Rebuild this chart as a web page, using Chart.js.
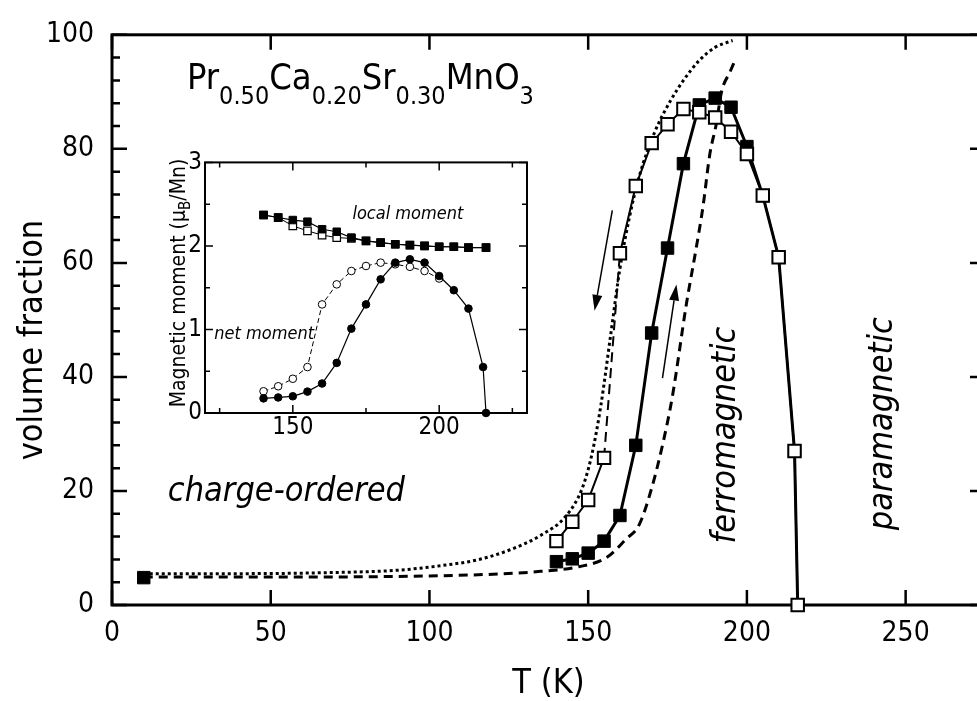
<!DOCTYPE html>
<html>
<head>
<meta charset="utf-8">
<script src="https://cdn.jsdelivr.net/npm/chart.js@4.4.0/dist/chart.umd.min.js"></script>
<style>
  html, body { margin: 0; padding: 0; background: #fff; overflow: hidden; width: 977px; height: 701px; }
  #wrap { position: relative; width: 1000px; height: 701px; }
  #main { position: absolute; left: 0; top: 0; }
  #inset { position: absolute; left: 145px; top: 145px; background: #fff; }
</style>
</head>
<body>
<div id="wrap">
  <canvas id="main" width="1000" height="701"></canvas>
  <canvas id="inset" width="395" height="300"></canvas>
</div>
<script>
const FONT = "'DejaVu Sans Condensed', 'DejaVu Sans', sans-serif";
Chart.defaults.font.family = FONT;
Chart.defaults.color = "#000";

// main panel: volume fraction vs T
const xTicks = [0, 50, 100, 150, 200, 250];
const yTicks = [0, 20, 40, 60, 80, 100];
const yMinorTicks = [4, 8, 12, 16, 24, 28, 32, 36, 44, 48, 52, 56, 64, 68, 72, 76, 84, 88, 92, 96];

const tLow = [10];
const fracLow = [4.8];
const tRun = [140, 145, 150, 155, 160, 165, 170, 175, 180, 185, 190, 195, 200, 205, 210, 215, 216];
const fracHeat = [7.6, 8.1, 9.1, 11.2, 15.7, 28.0, 47.7, 62.6, 77.4, 87.7, 88.9, 87.3, 80.4, 71.8, 61.0, 27.0, 0];
const fracCool = [11.2, 14.6, 18.4, 25.8, 61.7, 73.5, 81.0, 84.3, 87.0, 86.4, 85.5, 83.0, 79.1, 71.8, 61.0, 27.0, 0];

const tDotted = [10, 40, 70, 90, 105, 115, 125, 135, 143, 148, 151, 154, 157, 160, 163, 166, 171, 176, 180, 185, 190, 195.5];
const fracDotted = [5.5, 5.5, 5.7, 6.1, 7.0, 7.9, 9.6, 12.2, 15.6, 20.3, 26, 35, 47, 59, 68, 75, 83, 88.5, 92, 95.5, 97.8, 99];
const tDashed = [10, 60, 100, 120, 135, 147, 156, 162, 166, 170, 173.6, 176.5, 181, 184, 186.2, 188.3, 190.4, 192, 194.6, 196.4];
const fracDashed = [4.9, 4.9, 5.1, 5.4, 5.9, 6.7, 8.4, 11.6, 14, 20.5, 28.5, 36.5, 53, 62.5, 70, 79, 84.5, 90, 93.4, 95.7];

// inset: magnetic moment vs T
const insetXTicks = [150, 200];
const insetXMinor = [125, 175, 225];
const insetYTicks = [0, 1, 2, 3];
const insetYMinor = [0.5, 1.5, 2.5];

const tLocal = [140, 145, 150, 155, 160, 165, 170, 175, 180, 185, 190, 195, 200, 205, 210, 216];
const localHeat = [2.37, 2.34, 2.31, 2.29, 2.20, 2.17, 2.10, 2.06, 2.04, 2.02, 2.01, 2.00, 1.99, 1.99, 1.98, 1.98];
const localCool = [2.37, 2.34, 2.24, 2.18, 2.13, 2.10, 2.09, 2.06, 2.04, 2.02, 2.01, 2.00, 1.99, 1.99, 1.98, 1.98];
const tNetHeat = [140, 145, 150, 155, 160, 165, 170, 175, 180, 185, 190, 195, 200, 205, 210, 215, 216];
const netHeat = [0.175, 0.186, 0.20, 0.256, 0.353, 0.60, 1.01, 1.30, 1.60, 1.80, 1.84, 1.80, 1.64, 1.47, 1.25, 0.55, 0.0];
const tNetCool = [140, 145, 150, 155, 160, 165, 170, 175, 180, 185, 190, 195, 200];
const netCool = [0.26, 0.32, 0.41, 0.55, 1.30, 1.54, 1.70, 1.76, 1.80, 1.78, 1.75, 1.70, 1.61];

// arrows, in data units [x0, y0, x1, y1] (tip at x1, y1)
const arrows = [[157.6, 69.2, 152.0, 51.6], [173.4, 39.8, 177.8, 56.2]];

const pts = (xs, ys) => xs.map((x, i) => ({ x: x, y: ys[i] }));

function frameAndTicks(chart, o) {
  const { ctx, chartArea: a } = chart;
  const xs = chart.scales.x, ys = chart.scales.y;
  ctx.save();
  ctx.strokeStyle = "#000";
  ctx.lineWidth = o.tickWidth;
  ctx.beginPath();
  const xt = (v, len) => {
    const p = xs.getPixelForValue(v);
    ctx.moveTo(p, a.bottom); ctx.lineTo(p, a.bottom - len);
    ctx.moveTo(p, a.top); ctx.lineTo(p, a.top + len);
  };
  const yt = (v, len) => {
    const p = ys.getPixelForValue(v);
    ctx.moveTo(a.left, p); ctx.lineTo(a.left + len, p);
    ctx.moveTo(a.right, p); ctx.lineTo(a.right - len, p);
  };
  o.xMajor.forEach(v => xt(v, o.major));
  o.xMinor.forEach(v => xt(v, o.minor));
  o.yMajor.forEach(v => yt(v, o.major));
  o.yMinor.forEach(v => yt(v, o.minor));
  ctx.stroke();
  ctx.lineWidth = o.frameWidth;
  ctx.strokeRect(a.left, a.top, a.right - a.left, a.bottom - a.top);
  ctx.restore();
}

// draws text made of [string, isSub] pieces starting at x, baseline y
function drawPieces(ctx, pieces, x, y, font, subFont, subShift) {
  let cx = x;
  pieces.forEach(([s, sub]) => {
    ctx.font = sub ? subFont : font;
    ctx.fillText(s, cx, y + (sub ? subShift : 0));
    cx += ctx.measureText(s).width;
  });
  return cx - x;
}
function piecesWidth(ctx, pieces, font, subFont) {
  let w = 0;
  pieces.forEach(([s, sub]) => { ctx.font = sub ? subFont : font; w += ctx.measureText(s).width; });
  return w;
}

const mainDecor = {
  id: "mainDecor",
  beforeDatasetsDraw(chart) {
    frameAndTicks(chart, { xMajor: xTicks, xMinor: [], yMajor: yTicks, yMinor: yMinorTicks,
      major: 15, minor: 8, tickWidth: 2.5, frameWidth: 3 });
  },
  afterDraw(chart) {
    const { ctx } = chart;
    const xs = chart.scales.x, ys = chart.scales.y;
    ctx.save();
    ctx.fillStyle = "#000";
    ctx.strokeStyle = "#000";
    ctx.textBaseline = "alphabetic";

    // formula
    ctx.textAlign = "left";
    drawPieces(ctx, [["Pr", 0], ["0.50", 1], ["Ca", 0], ["0.20", 1], ["Sr", 0], ["0.30", 1], ["MnO", 0], ["3", 1]],
      xs.getPixelForValue(23.6), ys.getPixelForValue(90.5), "36px " + FONT, "25px " + FONT, 15);

    ctx.font = "italic 34px " + FONT;
    ctx.fillText("charge-ordered", xs.getPixelForValue(17.6), ys.getPixelForValue(18.2));

    ctx.textAlign = "center";
    [["ferromagnetic", 196.2, 29.8], ["paramagnetic", 245.6, 31.8]].forEach(([s, tx, ty]) => {
      ctx.save();
      ctx.translate(xs.getPixelForValue(tx), ys.getPixelForValue(ty));
      ctx.rotate(-Math.PI / 2);
      ctx.fillText(s, 0, 0);
      ctx.restore();
    });

    // arrows
    ctx.lineWidth = 1.5;
    arrows.forEach(([x0, y0, x1, y1]) => {
      const p0x = xs.getPixelForValue(x0), p0y = ys.getPixelForValue(y0);
      const p1x = xs.getPixelForValue(x1), p1y = ys.getPixelForValue(y1);
      const ang = Math.atan2(p1y - p0y, p1x - p0x);
      const hl = 16, hw = 5;
      ctx.beginPath();
      ctx.moveTo(p0x, p0y);
      ctx.lineTo(p1x - hl * Math.cos(ang), p1y - hl * Math.sin(ang));
      ctx.stroke();
      ctx.beginPath();
      ctx.moveTo(p1x, p1y);
      ctx.lineTo(p1x - hl * Math.cos(ang) + hw * Math.sin(ang), p1y - hl * Math.sin(ang) - hw * Math.cos(ang));
      ctx.lineTo(p1x - hl * Math.cos(ang) - hw * Math.sin(ang), p1y - hl * Math.sin(ang) + hw * Math.cos(ang));
      ctx.closePath();
      ctx.fill();
    });

    // axis titles
    ctx.font = "34px " + FONT;
    ctx.fillText("T (K)", (chart.chartArea.left + chart.chartArea.right) / 2, 693);
    ctx.save();
    ctx.translate(42, 340);
    ctx.rotate(-Math.PI / 2);
    ctx.fillText("volume fraction", 0, 0);
    ctx.restore();
    ctx.restore();
  }
};

const mainChart = new Chart(document.getElementById("main"), {
  type: "scatter",
  data: {
    datasets: [
      {
        data: pts(tRun, fracCool), showLine: true, clip: false,
        borderColor: "#000", borderWidth: 2, backgroundColor: "#fff",
        pointStyle: "rect", pointRadius: 8.8, pointBorderWidth: 2,
        segment: { borderDash: c => (c.p1.parsed.y - c.p0.parsed.y > 20 ? [10, 6] : []) }
      },
      {
        data: pts(tRun, fracHeat), showLine: true, clip: false,
        borderColor: "#000", borderWidth: 3, backgroundColor: "#000",
        pointStyle: "rect", pointRadius: 8.8, pointBorderWidth: 1
      },
      {
        data: pts(tLow, fracLow), showLine: false, clip: false,
        borderColor: "#000", backgroundColor: "#000",
        pointStyle: "rect", pointRadius: 8.8, pointBorderWidth: 1
      },
      {
        data: pts(tDotted, fracDotted), showLine: true, clip: false,
        borderColor: "#000", borderWidth: 3, borderDash: [3, 3],
        cubicInterpolationMode: "monotone", pointRadius: 0
      },
      {
        data: pts(tDashed, fracDashed), showLine: true, clip: false,
        borderColor: "#000", borderWidth: 3, borderDash: [9, 6],
        cubicInterpolationMode: "monotone", pointRadius: 0
      }
    ]
  },
  options: {
    responsive: false,
    animation: false,
    layout: { padding: { top: 27, right: 15, left: 0, bottom: 0 } },
    plugins: { legend: { display: false }, tooltip: { enabled: false } },
    scales: {
      x: {
        type: "linear", min: 0, max: 275,
        afterBuildTicks: s => { s.ticks = xTicks.map(v => ({ value: v })); },
        afterFit: s => { s.height = 96; },
        grid: { display: false, drawTicks: false },
        border: { display: false },
        ticks: { font: { size: 28 }, color: "#000", padding: 12, maxRotation: 0, autoSkip: false }
      },
      y: {
        type: "linear", min: 0, max: 100,
        afterBuildTicks: s => { s.ticks = yTicks.map(v => ({ value: v })); },
        afterFit: s => { s.width = 112; },
        grid: { display: false, drawTicks: false },
        border: { display: false },
        ticks: { font: { size: 28 }, color: "#000", padding: 18, autoSkip: false }
      }
    }
  },
  plugins: [mainDecor]
});

const insetDecor = {
  id: "insetDecor",
  beforeDatasetsDraw(chart) {
    frameAndTicks(chart, { xMajor: insetXTicks, xMinor: insetXMinor, yMajor: insetYTicks, yMinor: insetYMinor,
      major: 8, minor: 5, tickWidth: 1.5, frameWidth: 2 });
  },
  afterDraw(chart) {
    const { ctx } = chart;
    const xs = chart.scales.x, ys = chart.scales.y;
    ctx.save();
    ctx.fillStyle = "#000";
    ctx.textAlign = "center";
    ctx.textBaseline = "middle";
    ctx.font = "italic 18px " + FONT;
    ctx.fillText("local moment", xs.getPixelForValue(189.3), ys.getPixelForValue(2.38));
    ctx.fillText("net moment", xs.getPixelForValue(140.2), ys.getPixelForValue(0.94));

    // y title with subscript
    const pieces = [["Magnetic moment (\u03bc", 0], ["B", 1], ["/Mn)", 0]];
    const f = "21px " + FONT, sf = "15px " + FONT;
    ctx.textAlign = "left";
    ctx.textBaseline = "alphabetic";
    ctx.translate(40, 138);
    ctx.rotate(-Math.PI / 2);
    const w = piecesWidth(ctx, pieces, f, sf);
    drawPieces(ctx, pieces, -w / 2, 0, f, sf, 5);
    ctx.restore();
  }
};

const insetChart = new Chart(document.getElementById("inset"), {
  type: "scatter",
  data: {
    datasets: [
      {
        data: pts(tNetHeat, netHeat), showLine: true, clip: false,
        borderColor: "#000", borderWidth: 1.2, backgroundColor: "#000",
        pointStyle: "circle", pointRadius: 3.8, pointBorderWidth: 1
      },
      {
        data: pts(tNetCool, netCool), showLine: true, clip: false,
        borderColor: "#000", borderWidth: 1, borderDash: [5, 3], backgroundColor: "#fff",
        pointStyle: "circle", pointRadius: 3.8, pointBorderWidth: 1
      },
      {
        data: pts(tLocal, localHeat), showLine: true, clip: false,
        borderColor: "#000", borderWidth: 1.2, backgroundColor: "#000",
        pointStyle: "rect", pointRadius: 5.3, pointBorderWidth: 1
      },
      {
        data: pts(tLocal, localCool), showLine: true, clip: false,
        borderColor: "#000", borderWidth: 1, backgroundColor: "#fff",
        pointStyle: "rect", pointRadius: 5.3, pointBorderWidth: 1.2
      }
    ]
  },
  options: {
    responsive: false,
    animation: false,
    layout: { padding: { top: 10, right: 13, left: 0, bottom: 0 } },
    plugins: { legend: { display: false }, tooltip: { enabled: false } },
    scales: {
      x: {
        type: "linear", min: 120, max: 230,
        afterBuildTicks: s => { s.ticks = insetXTicks.map(v => ({ value: v })); },
        afterFit: s => { s.height = 32; },
        grid: { display: false, drawTicks: false },
        border: { display: false },
        ticks: { font: { size: 24 }, color: "#000", padding: 0, maxRotation: 0, autoSkip: false }
      },
      y: {
        type: "linear", min: 0, max: 3,
        afterBuildTicks: s => { s.ticks = insetYTicks.map(v => ({ value: v })); },
        afterFit: s => { s.width = 60; },
        grid: { display: false, drawTicks: false },
        border: { display: false },
        ticks: { font: { size: 24 }, color: "#000", padding: 3, autoSkip: false }
      }
    }
  },
  plugins: [insetDecor]
});
</script>
</body>
</html>
